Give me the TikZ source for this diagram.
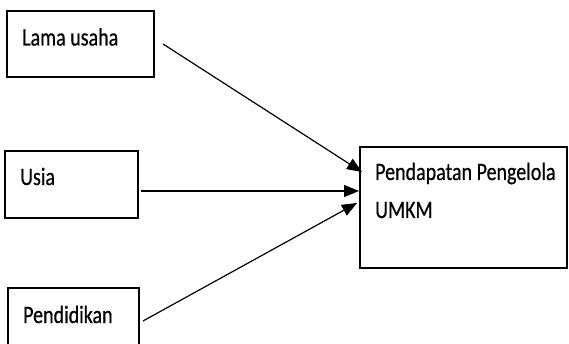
\documentclass[tikz,border=0pt]{standalone}
\usepackage{fontspec}
\newfontfamily\calib[FakeStretch=0.8,FakeBold=0.5]{Carlito}
\usetikzlibrary{arrows.meta}
\begin{document}
\begin{tikzpicture}[x=1pt,y=-1pt,
  box/.style={draw=black,line width=1.3pt,rectangle,inner sep=0pt},
  lbl/.style={anchor=base west,inner sep=0pt,font=\calib\fontsize{25}{28}\selectfont},
  conn/.style={line width=1.2pt,-{Triangle[length=15pt,width=12pt]}}]
\clip (0,0) rectangle (569,344);
\node[box,minimum width=147pt,minimum height=66pt] (b1) at (80.5,44) {};
\node[box,minimum width=133pt,minimum height=67pt] (b2) at (71.5,184.5) {};
\node[box,minimum width=131pt,minimum height=80pt] (b3) at (73.5,328) {};
\node[box,minimum width=207pt,minimum height=121pt] (b4) at (463.5,207.5) {};
\node[lbl] (t1) at (22,45.5) {Lama usaha};
\node[lbl] (t2) at (20,185) {Usia};
\node[lbl] (t3) at (23,323) {Pendidikan};
\node[lbl] (t4) at (375,180) {Pendapatan Pengelola};
\node[lbl] (t5) at (375,218) {UMKM};
\coordinate (s1) at (163,44);
\coordinate (s2) at (141,191);
\coordinate (s3) at (143,321);
\coordinate (e1) at (362,172);
\coordinate (e2) at (359,191);
\coordinate (e3) at (357,203);
\draw[conn] (s1) -- (e1);
\draw[conn] (s2) -- (e2);
\draw[conn] (s3) -- (e3);
\end{tikzpicture}
\end{document}
